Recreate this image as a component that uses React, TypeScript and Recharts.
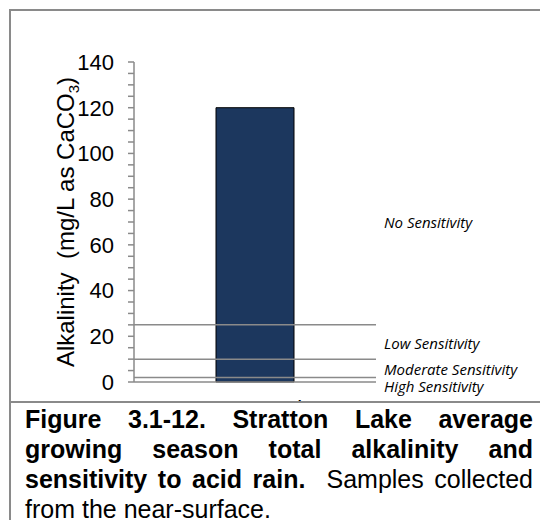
import React from 'react'
import { BarChart, Bar, XAxis, YAxis, ReferenceLine } from 'recharts'

// values
const categories = ['Stratton Lake']
const alkalinity = [120]
const yTicks = [0, 5, 10, 15, 20, 25, 30, 35, 40, 45, 50, 55, 60, 65, 70, 75, 80, 85, 90, 95, 100, 105, 110, 115, 120, 125, 130, 135, 140]
const thresholds = [25, 10, 2]
const zoneLabels = ['No Sensitivity', 'Low Sensitivity', 'Moderate Sensitivity', 'High Sensitivity']
const zoneLabelAt = [69.6, 16.6, 5.6, -2]

const captionBold = [
  'Figure 3.1-12.  Stratton Lake average',
  'growing season total alkalinity and',
]

const GRAY = '#8a8a8a'
const ARIAL = '"Liberation Sans", Arial, sans-serif'

const data = categories.map((name, i) => ({ name, value: alkalinity[i] }))

function YTick(props: any) {
  const { x, y, payload } = props
  if (payload.value % 20 !== 0) return <g />
  return (
    <text x={x} y={y} dy="0.355em" textAnchor="end" fontSize={22} fontFamily={ARIAL} fill="#000">
      {payload.value}
    </text>
  )
}

function YLabel() {
  return (
    <text
      x={74}
      y={222}
      transform="rotate(-90, 74, 222)"
      textAnchor="middle"
      fontSize={24}
      fontFamily={ARIAL}
      fill="#000"
      style={{ whiteSpace: 'pre' }}
    >
      Alkalinity  (mg/L as CaCO<tspan fontSize={15} dy={5}>3</tspan>
      <tspan dy={-5}>)</tspan>
    </text>
  )
}

export default function App() {
  return (
    <div style={{ position: 'absolute', left: 0, top: 0, width: 540, height: 520, background: '#fff', overflow: 'hidden' }}>
      <div
        style={{
          position: 'absolute', left: 9, top: 9, width: 540, height: 520,
          borderTop: `2px solid ${GRAY}`, borderLeft: `2px solid ${GRAY}`,
        }}
      />
      <div style={{ position: 'absolute', left: 0, top: 0 }}>
        <BarChart width={540} height={420} data={data} margin={{ top: 62, right: 164, left: 0, bottom: 8 }}>
          <XAxis
            dataKey="name"
            height={30}
            axisLine={{ stroke: GRAY, strokeWidth: 1.5 }}
            tickLine={false}
            tickSize={0}
            tickMargin={18}
            tick={{ fontSize: 22, fontFamily: ARIAL, fill: '#000' }}
          />
          <XAxis xAxisId="top" dataKey="name" orientation="top" height={0} tick={false} tickLine={false}
            axisLine={{ stroke: GRAY, strokeWidth: 1.5 }} />
          <YAxis
            width={134}
            domain={[0, 140]}
            ticks={yTicks}
            interval={0}
            tickSize={6}
            tickMargin={14}
            tickLine={{ stroke: GRAY, strokeWidth: 1.5 }}
            axisLine={{ stroke: GRAY, strokeWidth: 1.5 }}
            tick={<YTick />}
            label={<YLabel />}
          />
          <YAxis yAxisId="right" orientation="right" width={0} domain={[0, 140]} tick={false} tickLine={false}
            axisLine={{ stroke: GRAY, strokeWidth: 1.5 }} />
          <Bar dataKey="value" barSize={78} fill="#1c375e" stroke="#000" strokeWidth={1} isAnimationActive={false} />
          {thresholds.map((t) => (
            <ReferenceLine key={t} y={t} stroke={GRAY} strokeWidth={1.5} />
          ))}
          {zoneLabels.map((name, i) => (
            <ReferenceLine
              key={name}
              y={zoneLabelAt[i]}
              stroke="none"
              ifOverflow="visible"
              label={{
                value: name,
                position: 'right',
                offset: 8,
                fill: '#000',
                fontSize: 15,
                fontStyle: 'italic',
                fontFamily: '"Open Sans", Lato, sans-serif',
              }}
            />
          ))}
        </BarChart>
      </div>
      <div
        style={{
          position: 'absolute', left: 9, top: 401, width: 531, height: 119,
          borderTop: `2px solid ${GRAY}`, borderLeft: `2px solid ${GRAY}`, background: '#fff',
          boxSizing: 'border-box', paddingLeft: 14, paddingTop: 1,
          fontFamily: ARIAL, fontSize: 25, lineHeight: '30px', color: '#000',
        }}
      >
        <div style={{ width: 508 }}>
          {captionBold.map((line) => (
            <div key={line} style={{ fontWeight: 'bold', textAlign: 'justify', textAlignLast: 'justify', whiteSpace: 'nowrap' as any }}>
              {line}
            </div>
          ))}
          <div style={{ textAlign: 'justify', textAlignLast: 'justify', whiteSpace: 'nowrap' as any }}>
            <b>sensitivity to acid rain.</b>&nbsp; Samples collected
          </div>
          <div>from the near-surface.</div>
        </div>
      </div>
    </div>
  )
}
